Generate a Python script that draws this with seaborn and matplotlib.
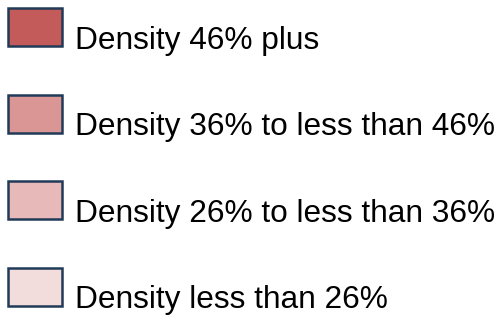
"""
Density legend recreated with seaborn/matplotlib
"""

import matplotlib
matplotlib.use('Agg')
import matplotlib.pyplot as plt
from matplotlib.patches import Rectangle
import seaborn as sns

# Legend data
labels = [
    'Density 46% plus',
    'Density 36% to less than 46%',
    'Density 26% to less than 36%',
    'Density less than 26%',
]
colors = ['#c25b5a', '#da9595', '#e8b9b9', '#f2dcdc']
EDGE = '#203a58'

# Layout in pixel units
ROW_STEP = 86.6
BOX_X, BOX_Y, BOX_W, BOX_H = 8, 8, 54, 38
TEXT_X = 75
BASELINE_OFFSET = 40.5

sns.set_theme(style='white')
plt.rcParams['font.family'] = ['Liberation Sans', 'DejaVu Sans']

fig = plt.figure(figsize=(5.01, 3.16), dpi=100)
ax = fig.add_axes([0, 0, 1, 1])
ax.set_xlim(0, 501)
ax.set_ylim(316, 0)
ax.axis('off')

for i, (label, color) in enumerate(zip(labels, colors)):
    top = BOX_Y + i * ROW_STEP
    ax.add_patch(Rectangle((BOX_X, top), BOX_W, BOX_H, facecolor=color,
                           edgecolor=EDGE, linewidth=1.8))
    ax.text(TEXT_X, top + BASELINE_OFFSET, label, fontsize=22.8,
            color='black', va='baseline', ha='left')

fig.savefig('out.png', dpi=100)
